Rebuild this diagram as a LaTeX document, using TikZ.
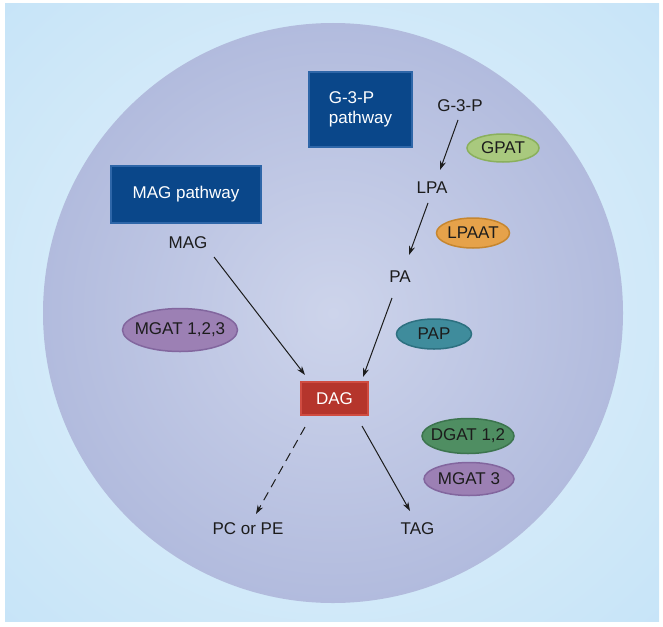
\documentclass[tikz,border=0pt]{standalone}
\usepackage{fontspec}
\setmainfont{Liberation Sans}
\usetikzlibrary{shapes.geometric,arrows.meta}
\definecolor{bgin}{HTML}{E6F3FB}
\definecolor{bgout}{HTML}{BADEF6}
\definecolor{cin}{HTML}{CDD4EB}
\definecolor{cmid}{HTML}{A9B3D9}
\definecolor{cout}{HTML}{8693C6}
\definecolor{boxfill}{HTML}{0A478A}
\definecolor{boxrim}{HTML}{2E66A8}
\definecolor{dagfill}{HTML}{B5352C}
\definecolor{dagrim}{HTML}{D04C41}
\definecolor{txt}{HTML}{1C1C1C}
\definecolor{gpatfill}{HTML}{A9C97E}
\definecolor{gpatrim}{HTML}{8AB05C}
\definecolor{lpaatfill}{HTML}{E6A24A}
\definecolor{lpaatrim}{HTML}{C6862F}
\definecolor{papfill}{HTML}{3F8C9C}
\definecolor{paprim}{HTML}{2D7080}
\definecolor{mgatfill}{HTML}{9C80B4}
\definecolor{mgatrim}{HTML}{82669E}
\definecolor{dgatfill}{HTML}{4F8E62}
\definecolor{dgatrim}{HTML}{3C744E}
\pgfdeclareradialshading{bgshade}{\pgfpoint{0bp}{0bp}}{color(0bp)=(bgin); color(50bp)=(bgout)}
\pgfdeclareradialshading{cellshade}{\pgfpoint{0bp}{0bp}}{color(0bp)=(cin); color(33bp)=(cmid); color(50bp)=(cout)}
\tikzset{
  pathbox/.style={draw=boxrim, line width=1.8pt, fill=boxfill, text=white, inner sep=0pt, align=left},
  dagbox/.style={draw=dagrim, line width=2pt, fill=dagfill, text=white, inner sep=0pt, minimum width=67pt, minimum height=33pt},
  enz/.style={ellipse, line width=1.5pt, inner sep=-40pt, text=txt},
  lbl/.style={text=txt, inner sep=2pt},
  arr/.style={-{Stealth[length=9pt,width=6pt]}, line width=1pt, draw=txt},
}
\begin{document}
\begin{tikzpicture}[x=1pt,y=-1pt,font=\fontsize{17}{19.5}\selectfont]
\useasboundingbox (0,0) rectangle (663,626);
\shade[shading=bgshade] (5,4) rectangle (659,621);
\shade[shading=cellshade] (333,313) circle[radius=290];

% pathway boxes
\node[pathbox, minimum width=103pt, minimum height=75pt] (g3pbox) at (360.5,109.5) {G-3-P\\pathway};
\node[pathbox, minimum width=150pt, minimum height=57pt] (magbox) at (186,194.5) {MAG pathway};

% metabolites
\node[lbl] (g3p) at (460,106) {G-3-P};
\node[lbl] (lpa) at (432,188) {LPA};
\node[lbl] (pa) at (400,277) {PA};
\node[lbl] (mag) at (188,243) {MAG};
\node[dagbox] (dag) at (334.5,398.5) {DAG};
\node[lbl] (pcpe) at (248,529) {PC or PE};
\node[lbl] (tag) at (417.5,529) {TAG};

% enzymes
\node[enz, fill=gpatfill, draw=gpatrim, minimum width=72pt, minimum height=28pt] (gpat) at (503,148) {GPAT};
\node[enz, fill=lpaatfill, draw=lpaatrim, minimum width=73pt, minimum height=30pt] (lpaat) at (473,233) {LPAAT};
\node[enz, fill=papfill, draw=paprim, minimum width=75pt, minimum height=30pt] (pap) at (434,334) {PAP};
\node[enz, fill=mgatfill, draw=mgatrim, minimum width=115pt, minimum height=43pt] (mgat) at (180,330) {MGAT 1,2,3};
\node[enz, fill=dgatfill, draw=dgatrim, minimum width=92pt, minimum height=35pt] (dgat) at (468,436) {DGAT 1,2};
\node[enz, fill=mgatfill, draw=mgatrim, minimum width=90pt, minimum height=33pt] (mgat3) at (469,479) {MGAT 3};

% arrows
\draw[arr] ([shift={(-2,14)}]g3p.center) -- ([shift={(8,-18)}]lpa.center);
\draw[arr] ([shift={(-4,15)}]lpa.center) -- ([shift={(9,-22)}]pa.center);
\draw[arr] ([shift={(-8,21)}]pa.center) -- ([shift={(28.5,-21.5)}]dag.center);
\draw[arr] ([shift={(26,14)}]mag.center) -- ([shift={(-29.5,-23.5)}]dag.center);
\draw[arr, dash pattern=on 9pt off 6pt] ([shift={(-29.5,28.5)}]dag.center) -- ([shift={(8,-15)}]pcpe.center);
\draw[arr] ([shift={(27.5,27.5)}]dag.center) -- ([shift={(-7.5,-18)}]tag.center);
\end{tikzpicture}
\end{document}
